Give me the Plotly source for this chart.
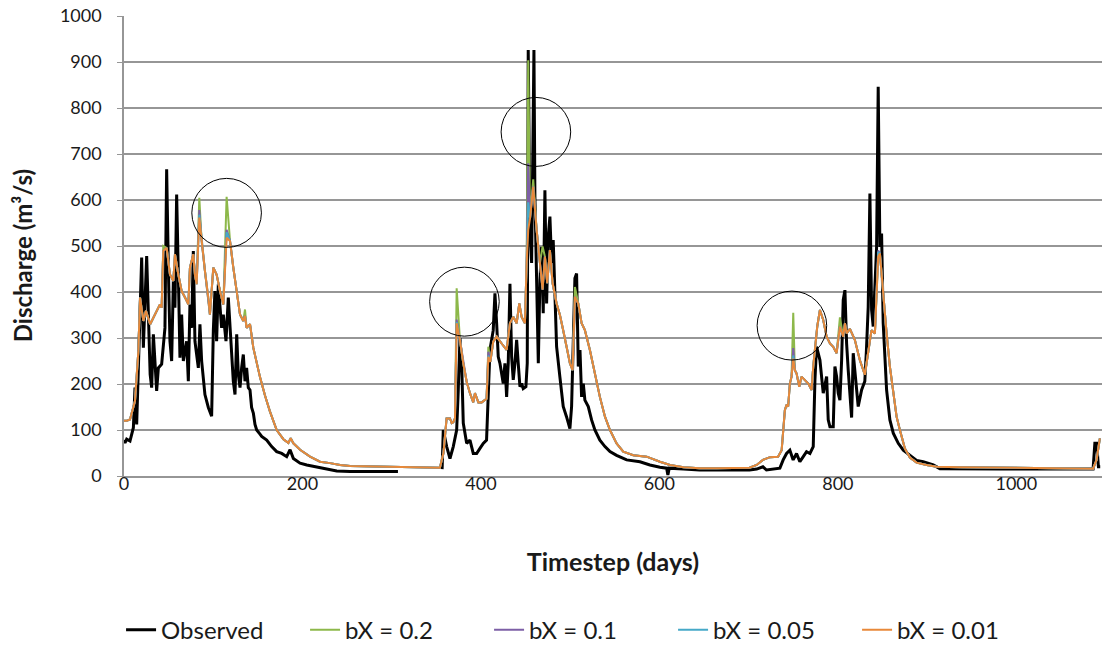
import plotly.graph_objects as go

# ---------------- data ----------------
obs_t = [0, 1.1, 3, 6.7, 10.5, 12.3, 14.2, 16.1, 19.8, 21.7, 25.4, 29.3, 31.0, 32.9, 36.6, 38.5,
         42.2, 45.9, 47.8, 49.7, 51.5, 53.4, 55.3, 57.1, 59.0, 60.9, 62.7, 64.6, 66.5, 70.2,
         72.1, 73.9, 75.8, 77.7, 79.5, 81.4, 83.3, 85.1, 87.0, 90.7, 94.5, 98.2, 100.1, 101.9,
         103.8, 105.7, 107.6, 109.4, 111.3, 114.3, 116.9, 118.8, 120.7, 122.5, 124.4, 126.3,
         128.1, 130.0, 131.8, 133.7, 135.6, 137.4, 139.3, 141.2, 143.0, 145.0, 146.8, 148.7,
         152.4, 154.3, 159.9, 165.5, 171.1, 176.7, 182.3, 186.1, 189.8, 197.3, 204.8, 216.0,
         227.2, 238.4, 253.4, 272, 290, 307,
         None,
         356.5, 357.8, 361.6, 365.3, 369.0, 372.8, 374.6, 376.5, 378.4, 380.2, 384.0, 387.7,
         391.4, 395.2, 398.9, 402.6, 406.3, 408.2, 410.1, 413.8, 415.7, 417.6, 419.4, 421.3,
         423.2, 425.0, 426.9, 428.8, 430.6, 432.5, 434.4, 436.2, 438.1, 440.0, 441.8, 443.7,
         445.6, 447.4, 450.4, 451.9, 453.0, 454.9, 456.8, 459.4, 460.5, 462.4, 464.3, 466.1,
         468.0, 469.8, 471.7, 473.6, 475.4, 477.3, 479.2, 481.0, 482.9, 484.8, 488.5, 492.2,
         495.9, 499.7, 501.6, 503.5, 505.3, 507.2, 509.1, 511.0, 512.8, 514.7, 516.5, 520.3,
         524.0, 527.7, 533.3, 539.0, 544.6, 552.0, 563.3, 578.2, 589.4, 600.6, 608.1, 609.5,
         611, 627, 645, 682, 701, 709, 716, 720, 735, 738.7, 742.5, 746.2, 749.9, 753.7, 757.4,
         761.2, 764.9, 768.7, 772.4, 774.3, 776.1, 779.9, 783.6, 787.4, 789.2, 791.1, 794.8,
         796.7, 798.6, 800.4, 802.3, 804.2, 806.0, 807.9, 809.8, 811.6, 813.5, 815.4, 817.2,
         819.1, 822.8, 826.6, 830.2, 832, 834, 835.9, 837.8, 839.6, 841.5, 843.4, 845.2, 847.1,
         849.0, 850.8, 854.6, 858.3, 862.1, 867.7, 873.3, 880.7, 888.2, 895.6, 906.9, 914.3,
         944, 982, 1019, 1056, 1086, 1088, 1090, 1092, 1094]
obs_q = [78, 72, 80, 76, 105, 192, 112, 221, 475, 279, 478, 221, 192, 308, 185, 235,
         243, 322, 667, 453, 293, 250, 424, 366, 612, 438, 257, 351, 250, 293,
         206, 373, 322, 489, 293, 264, 235, 330, 250, 177, 149, 130, 315, 402,
         293, 417, 366, 322, 351, 293, 388, 322, 257, 206, 177, 308,
         221, 192, 235, 264, 206, 235, 192, 187, 149, 136, 112, 100,
         91, 86, 78, 64, 53, 49, 42, 57, 38, 28, 24, 20,
         16, 11, 10, 10, 9, 10,
         None,
         15, 100, 64, 38, 64, 100, 187, 300, 245, 115, 71, 78,
         49, 49, 60, 71, 78, 172, 274, 317, 397, 332, 259, 245,
         216, 201, 245, 172, 245, 418, 259, 209, 245, 296, 245, 194,
         201, 190, 194, 245, 926, 535, 463, 926, 607, 390, 245, 426,
         498, 354, 621, 375, 520, 564, 463, 513, 390, 281, 215, 151,
         129, 103, 151, 300, 430, 440, 238, 274, 172, 201, 165, 151,
         122, 100, 78, 64, 53, 45, 35, 31, 24, 19, 17, 2,
         17, 15, 13, 13, 13, 15, 20, 13, 17, 35, 49, 56, 35, 49, 31,
         42, 53, 49, 64, 209, 281, 252, 180, 216, 122, 107, 107,
         238, 216, 180, 165, 252, 383, 404, 288, 230, 180, 127, 267,
         223, 151, 187, 206, 273, 368, 614, 361, 325, 433, 498, 846, 498,
         527, 332, 187, 122, 93, 71, 56, 45, 34, 31, 24, 16,
         15, 15, 15, 15, 15, 71, 71, 20, 20]

sim_t = [0, 3, 6.7, 12.3, 16.1, 18, 21.7, 24.6, 29.3, 32.9, 36.6, 40.3, 42.2, 44, 47.8,
         51.5, 55.3, 57.1, 60.9, 64.6, 68.4, 72.1, 73.9, 77.7, 79.5, 81.4, 84.4, 87.0, 90.7,
         94.5, 96.3, 100.1, 103.8, 107.6, 111.3, 115.0, 118.8, 122.5, 126.3, 130.0, 133.7,
         135.6, 137.4, 141.2, 144.9, 152.4, 158, 163.6, 171.1, 178.6, 184.2, 186.8, 189.8,
         197.3, 208.5, 219.7, 230.9, 242.2, 253.4, 272, 309, 346, 354,
         358, 361.5, 365.3, 367.2, 369.0, 370.9, 372.8, 376.5, 380.2, 384.0, 387.7, 391.4,
         393.3, 397.1, 400.8, 404.5, 406.3, 408.3, 410.5, 413.8, 417.6, 423.2, 428.8, 432.5,
         436.2, 440.0, 443.0, 445.6, 449.3, 451.2, 453.0, 455, 458.6, 462.4, 466.1, 469.1,
         471.7, 474.3, 477.3, 480.3, 484.8, 488.5, 492.2, 494.1, 496, 499.7, 502.7, 505.3,
         509.1, 512.8, 516.5, 522.1, 527.7, 533.3, 539.0, 544.6, 552.0, 559.5, 570.7, 585.7,
         600.6, 611.8, 627, 645, 664, 683, 701, 709, 716, 724, 733, 737, 739, 740.6, 742.5,
         744.3, 746.2, 748.1, 750.0, 751.8, 753.7, 756.7, 759.3, 763.1, 766.8, 770.6, 772.4,
         776.9, 779.9, 783.6, 787.4, 791.1, 794.8, 798.6, 802.3, 806.0, 807.9, 809.8, 813.5,
         819.0, 824.6, 830.2, 834.0, 837.7, 841.5, 845.2, 847.1, 850.8, 854.6, 858.3, 862.1,
         865.8, 869.5, 875.1, 880.7, 888.2, 899.4, 910.6, 937, 982, 1019, 1056, 1086, 1089.9,
         1093.6]
sim_q001 = [120, 120, 123, 163, 272, 388, 337, 359, 330, 344, 359, 373, 366, 489, 496,
            438, 424, 482, 438, 402, 388, 373, 453, 482, 438, 417, 562, 511, 446,
            388, 351, 453, 438, 402, 373, 518, 511, 453, 402, 351, 337,
            348, 322, 330, 279, 215, 175, 140, 100, 80, 72, 82, 71,
            57, 42, 31, 28, 24, 22, 21, 19, 17, 18,
            50, 125, 125, 115, 117, 125, 332, 295, 245, 205, 180, 160,
            180, 160, 160, 165, 168, 259, 248, 292, 303, 288, 274, 332,
            346, 332, 375, 346, 332, 463, 535, 560, 629, 535, 463, 405,
            477, 419, 491, 419, 375, 350, 317, 296, 281, 245, 230, 390,
            375, 332, 317, 274, 223, 172, 129, 100, 71, 53, 45, 42,
            31, 24, 19, 17, 17, 17, 18, 24, 35, 41, 42, 56, 100, 143, 155,
            151, 201, 216, 255, 230, 223, 194, 216, 209, 201, 187, 238,
            325, 361, 339, 303, 288, 281, 267, 325, 303, 332, 310, 320,
            296, 252, 220, 267, 317, 310, 477, 484, 390, 310, 238, 180,
            129, 100, 60, 40, 29, 24, 20, 19, 18, 17, 16, 16, 35,
            82]

# peak values where the other parameter runs depart from bX = 0.01
peaks_02 = {44: 500, 84.4: 605, 115.0: 607, 135.6: 362, 372.8: 408, 408.3: 281,
            453.0: 904, 458.6: 645, 469.1: 499, 505.3: 411, 750.0: 355, 802.3: 345}
peaks_01 = {84.4: 578, 115.0: 535, 372.8: 340, 408.3: 270, 453.0: 680, 750.0: 278,
            845.2: 490}
peaks_005 = {84.4: 568, 115.0: 530, 372.8: 335, 408.3: 262, 453.0: 595, 750.0: 262,
             845.2: 487}

series_names = ["Observed", "bX = 0.2", "bX = 0.1", "bX = 0.05", "bX = 0.01"]
x_ticks = [0, 200, 400, 600, 800, 1000]

# highlighted peaks (centre t, centre Q)
circle_t = [115, 381.5, 461.6, 748.5]
circle_q = [572, 379, 748, 327]


def variant(peaks):
    return [peaks.get(t, q) for t, q in zip(sim_t, sim_q001)]


colors = ["#000000", "#8DB84A", "#7D5FA6", "#46A9C8", "#E8893A"]
widths = [3, 2, 2, 2, 2]
ys = [obs_q, variant(peaks_02), variant(peaks_01), variant(peaks_005), sim_q001]
xs = [obs_t, sim_t, sim_t, sim_t, sim_t]

fig = go.Figure()
for name, x, y, c, w in zip(series_names, xs, ys, colors, widths):
    fig.add_trace(go.Scatter(x=x, y=y, mode="lines", name=name,
                             line=dict(color=c, width=w), connectgaps=False))

for ct, cq in zip(circle_t, circle_q):
    fig.add_shape(type="circle", xref="x", yref="y",
                  x0=ct - 39, x1=ct + 39, y0=cq - 75, y1=cq + 75,
                  line=dict(color="black", width=1))

FONT = "Lato, 'Open Sans', sans-serif"
fig.update_layout(
    width=1102, height=648,
    margin=dict(l=124, r=0, t=16, b=172, autoexpand=False),
    paper_bgcolor="white", plot_bgcolor="white",
    font=dict(family=FONT, size=18, color="#1a1a1a"),
    showlegend=True,
    legend=dict(orientation="h", x=-0.003, xanchor="left", y=-0.335, yanchor="middle",
                font=dict(size=24, family=FONT), entrywidth=139, entrywidthmode="pixels",
                traceorder="normal", bgcolor="rgba(0,0,0,0)"),
)
# y-axis title placed as a rotated annotation so its centre sits where the reference has it
fig.add_annotation(text="<b>Discharge (m³/s)</b>", textangle=-90, showarrow=False,
                   xref="paper", yref="paper", x=-0.1043, y=0.48,
                   xanchor="center", yanchor="middle", font=dict(size=24, family=FONT))
fig.update_xaxes(range=[0, 1096], tickvals=x_ticks, ticktext=[str(v) for v in x_ticks],
                 showgrid=False, zeroline=False, showline=True, linecolor="#969696",
                 linewidth=1.5, ticks="", tickfont=dict(size=18), ticklabelstandoff=-9,
                 automargin=False,
                 title=dict(text="<b>Timestep (days)</b>", font=dict(size=25), standoff=60))
fig.update_yaxes(range=[0, 1000], dtick=100, showgrid=True, gridcolor="#969696",
                 gridwidth=1.5, zeroline=False, showline=True, linecolor="#969696",
                 linewidth=1.5, ticks="outside", ticklen=5, tickcolor="#969696",
                 tickfont=dict(size=18), ticklabelstandoff=12, automargin=False)

fig.write_html("out.html", config={"displayModeBar": False},
               post_script="document.body.style.margin='0';")
